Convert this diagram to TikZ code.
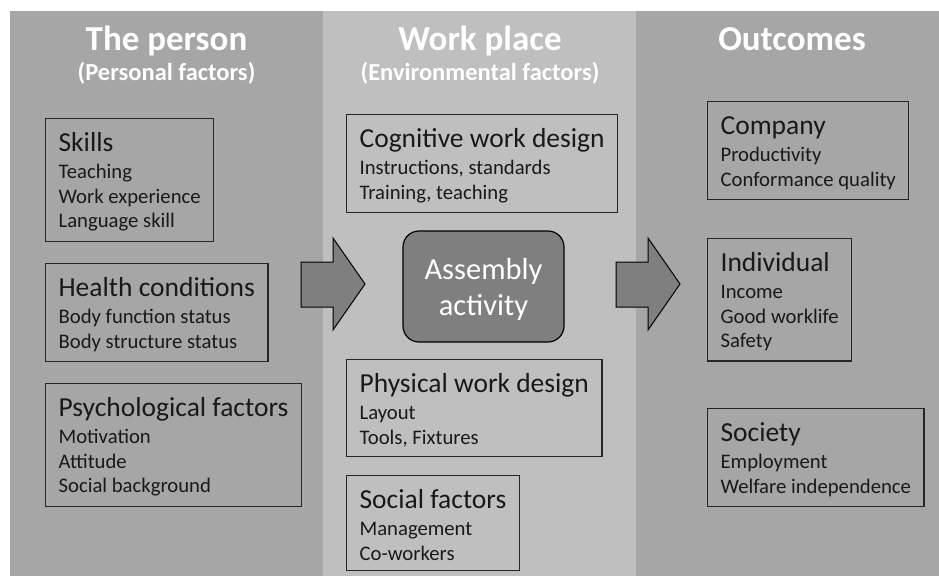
\documentclass[tikz,border=0pt]{standalone}
\usepackage{fontspec}
\setmainfont{Carlito}
\usetikzlibrary{positioning}
\definecolor{paneldark}{HTML}{A6A6A6}
\definecolor{panellight}{HTML}{BFBFBF}
\definecolor{activitygray}{HTML}{7F7F7F}
\definecolor{boxline}{HTML}{262626}
\newcommand{\factorhead}[1]{{\fontsize{27.5}{24.5}\selectfont\rule{0pt}{23pt}#1}\\[2.5pt]}

\begin{document}
\begin{tikzpicture}[x=1pt, y=-1pt,
  factor/.style={draw=boxline, line width=1.2pt, anchor=north west, align=left,
    inner xsep=13pt, inner ysep=10pt, text=black!90,
    font=\fontsize{20.7}{24.5}\selectfont},
  title/.style={text=white, anchor=base, font=\bfseries\fontsize{35}{40}\selectfont},
  subtitle/.style={text=white, anchor=base, font=\bfseries\fontsize{24.5}{28}\selectfont},
  activity/.style={draw=black, line width=1.2pt, fill=activitygray, rounded corners=16pt,
    minimum width=161pt, minimum height=111pt, align=center, text=white,
    text depth=0pt, font=\fontsize{30.5}{36}\selectfont},
  bigarrow/.style={draw=black, line width=1pt, fill=activitygray}]
  \useasboundingbox (0,0) rectangle (939,576);
  % panels
  \fill[paneldark]  (9.5,11) rectangle (323,576);
  \fill[panellight] (323,11) rectangle (636,576);
  \fill[paneldark]  (636,11) rectangle (939,576);
  % headings
  \node[title] (tperson) at (166.5,50) {The person};
  \node[subtitle] (sperson) at (166.5,80) {(Personal factors)};
  \node[title] (tplace) at (480,50) {Work place};
  \node[subtitle] (splace) at (480,80) {(Environmental factors)};
  \node[title] (toutcome) at (792,50) {Outcomes};
  % the person
  \node[factor] (skills) at (45,118)
    {\factorhead{Skills}Teaching\\Work experience\\Language skill};
  \node[factor] (health) at (45,263)
    {\factorhead{Health conditions}Body function status\\Body structure status};
  \node[factor] (psych) at (45,383)
    {\factorhead{Psychological factors}Motivation\\Attitude\\Social background};
  % work place
  \node[factor] (cognitive) at (346,114)
    {\factorhead{Cognitive work design}Instructions, standards\\Training, teaching};
  \node[activity] (assembly) at (483.5,286.5) {Assembly\\activity};
  \node[factor] (physical) at (346,359)
    {\factorhead{Physical work design}Layout\\Tools, Fixtures};
  \node[factor] (social) at (346,475)
    {\factorhead{Social factors}Management\\Co-workers};
  % outcomes
  \node[factor] (company) at (707,101)
    {\factorhead{Company}Productivity\\Conformance quality};
  \node[factor] (individual) at (707,238)
    {\factorhead{Individual}Income\\Good worklife\\Safety};
  \node[factor] (society) at (707,408)
    {\factorhead{Society}Employment\\Welfare independence};
  % block arrows
  \draw[bigarrow] (301,262) -- (333,262) -- (333,238) -- (365,284)
    -- (333,330) -- (333,307) -- (301,307) -- cycle;
  \draw[bigarrow] (616,262) -- (648,262) -- (648,238) -- (680,284)
    -- (648,330) -- (648,307) -- (616,307) -- cycle;
\end{tikzpicture}
\end{document}
